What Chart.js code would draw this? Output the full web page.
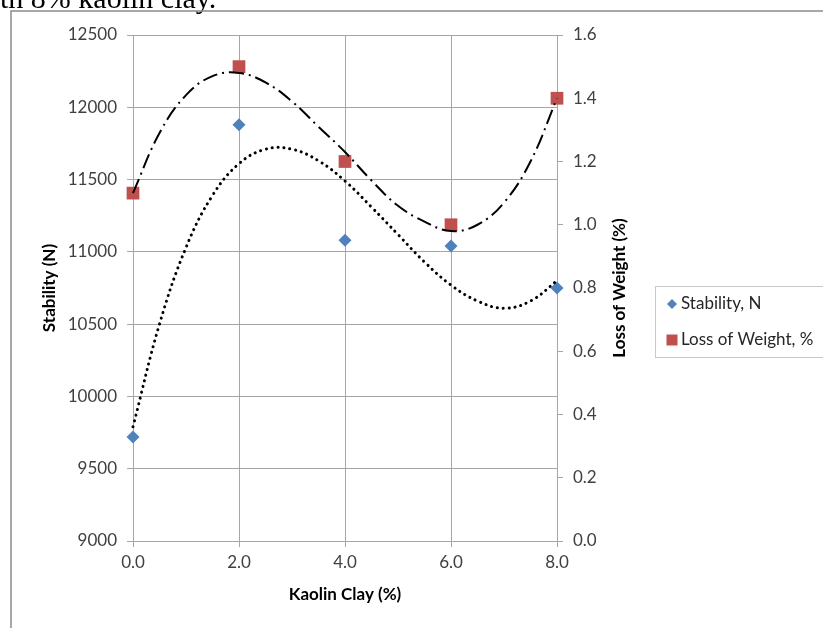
<!DOCTYPE html>
<html>
<head>
<meta charset="utf-8">
<script src="https://cdn.jsdelivr.net/npm/chart.js@4.4.1/dist/chart.umd.min.js"></script>
<style>
  html, body { margin: 0; padding: 0; background: #ffffff; }
  #wrap { position: relative; width: 823px; height: 628px; overflow: hidden; }
  canvas { position: absolute; left: 0; top: 0; }
</style>
</head>
<body>
<div id="wrap"><canvas id="c" width="823" height="628"></canvas></div>
<script>
// ---- data ----
const kaolin = [0, 2, 4, 6, 8];
const stability = [9720, 11880, 11080, 11040, 10750];
const lossWeight = [1.10, 1.50, 1.20, 1.00, 1.40];

// trendline curves (polynomial trendlines)
const trendX = [0, 0.5, 1, 1.5, 2, 2.5, 3, 3.5, 4, 4.5, 5, 5.5, 6, 6.5, 7, 7.5, 8];
const stabilityTrend = [9790, 10500, 11030, 11390, 11610, 11710, 11710, 11630, 11490, 11310, 11120, 10930, 10770, 10660, 10610, 10660, 10800];
const lossTrend = [1.10, 1.29, 1.41, 1.47, 1.48, 1.45, 1.39, 1.31, 1.23, 1.14, 1.06, 1.01, 0.98, 1.00, 1.07, 1.20, 1.40];

const xTicks = [0, 2, 4, 6, 8];
const leftTicks = [9000, 9500, 10000, 10500, 11000, 11500, 12000, 12500];
const rightTicks = [0, 0.2, 0.4, 0.6, 0.8, 1.0, 1.2, 1.4, 1.6];

const seriesNames = ['Stability, N', 'Loss of Weight, %'];
const xTitle = 'Kaolin Clay (%)';
const yTitle = 'Stability (N)';
const y2Title = 'Loss of Weight (%)';
const topText = 'with 8% kaolin clay.';

const blue = '#4F81BD';
const red = '#C0504D';
const gridColor = '#a6a6a6';
const tickColor = '#404040';
const FONT = 'Lato, "Open Sans", "Liberation Sans", sans-serif';

const pts = (xs, ys) => xs.map((x, i) => ({ x: x, y: ys[i] }));

const extras = {
  id: 'extras',
  afterDraw(chart) {
    const ctx = chart.ctx;
    const ca = chart.chartArea;
    ctx.save();
    // top text (cut-off caption from the surrounding document)
    ctx.fillStyle = '#000';
    ctx.font = '30px "Liberation Serif", "Times New Roman", serif';
    ctx.textBaseline = 'alphabetic';
    ctx.textAlign = 'left';
    ctx.fillText(topText, -30, 8);

    // outer frame
    ctx.strokeStyle = '#8c8c8c';
    ctx.lineWidth = 1.5;
    ctx.beginPath();
    ctx.moveTo(11, 640);
    ctx.lineTo(11, 11);
    ctx.lineTo(830, 11);
    ctx.stroke();

    // axis titles
    ctx.fillStyle = '#000';
    ctx.font = 'bold 17px ' + FONT;
    ctx.textAlign = 'center';
    ctx.textBaseline = 'middle';
    ctx.fillText(xTitle, (ca.left + ca.right) / 2, 595);

    ctx.save();
    ctx.translate(50, (ca.top + ca.bottom) / 2);
    ctx.rotate(-Math.PI / 2);
    ctx.fillText(yTitle, 0, 0);
    ctx.restore();

    ctx.save();
    ctx.translate(620, (ca.top + ca.bottom) / 2);
    ctx.rotate(-Math.PI / 2);
    ctx.fillText(y2Title, 0, 0);
    ctx.restore();

    // legend
    ctx.strokeStyle = '#c8c8c8';
    ctx.lineWidth = 1;
    ctx.strokeRect(655.5, 286.5, 170, 71);
    ctx.font = '17px ' + FONT;
    ctx.textAlign = 'left';
    ctx.textBaseline = 'middle';
    // diamond
    ctx.fillStyle = blue;
    ctx.beginPath();
    ctx.moveTo(672, 299); ctx.lineTo(677, 304); ctx.lineTo(672, 309); ctx.lineTo(667, 304);
    ctx.closePath(); ctx.fill();
    ctx.fillStyle = '#262626';
    ctx.fillText(seriesNames[0], 681, 304);
    // square
    ctx.fillStyle = red;
    ctx.fillRect(666.5, 334.5, 11, 11);
    ctx.fillStyle = '#262626';
    ctx.fillText(seriesNames[1], 681, 340);
    ctx.restore();
  }
};

new Chart(document.getElementById('c'), {
  type: 'scatter',
  data: {
    datasets: [
      {
        label: 'Stability trend',
        data: pts(trendX, stabilityTrend),
        yAxisID: 'y',
        showLine: true,
        pointRadius: 0,
        borderColor: '#000',
        borderWidth: 3,
        borderDash: [0.1, 5.8],
        borderCapStyle: 'round',
        tension: 0.4,
        fill: false,
        clip: false
      },
      {
        label: 'Loss trend',
        data: pts(trendX, lossTrend),
        yAxisID: 'y2',
        showLine: true,
        pointRadius: 0,
        borderColor: '#000',
        borderWidth: 2,
        borderDash: [15, 5, 2, 5],
        tension: 0.4,
        fill: false,
        clip: false
      },
      {
        label: seriesNames[0],
        data: pts(kaolin, stability),
        yAxisID: 'y',
        pointStyle: 'rectRot',
        pointRadius: 6.5,
        pointBackgroundColor: blue,
        pointBorderColor: blue,
        pointBorderWidth: 0,
        showLine: false,
        clip: false
      },
      {
        label: seriesNames[1],
        data: pts(kaolin, lossWeight),
        yAxisID: 'y2',
        pointStyle: 'rect',
        pointRadius: 9,
        pointBackgroundColor: red,
        pointBorderColor: red,
        pointBorderWidth: 0,
        showLine: false,
        clip: false
      }
    ]
  },
  options: {
    responsive: false,
    animation: false,
    layout: { padding: { top: 35, left: 0, right: 0, bottom: 0 } },
    plugins: {
      legend: { display: false },
      tooltip: { enabled: false },
      title: { display: false }
    },
    scales: {
      x: {
        type: 'linear',
        min: 0, max: 8,
        afterFit: s => { s.height = 87; },
        afterBuildTicks: s => { s.ticks = xTicks.map(v => ({ value: v })); },
        ticks: {
          callback: v => Number(v).toFixed(1),
          color: tickColor,
          font: { family: FONT, size: 17 },
          padding: 5,
          maxRotation: 0
        },
        grid: { color: gridColor, lineWidth: 1, tickLength: 6, tickColor: gridColor },
        border: { color: gridColor, width: 1 }
      },
      y: {
        position: 'left',
        min: 9000, max: 12500,
        afterFit: s => { s.width = 133; },
        afterBuildTicks: s => { s.ticks = leftTicks.map(v => ({ value: v })); },
        ticks: {
          callback: v => String(v),
          color: tickColor,
          font: { family: FONT, size: 17 },
          padding: 10
        },
        grid: { color: gridColor, lineWidth: 1, tickLength: 6, tickColor: gridColor },
        border: { color: gridColor, width: 1 }
      },
      y2: {
        position: 'right',
        min: 0, max: 1.6,
        afterFit: s => { s.width = 266; },
        afterBuildTicks: s => { s.ticks = rightTicks.map(v => ({ value: v })); },
        ticks: {
          callback: v => Number(v).toFixed(1),
          color: tickColor,
          font: { family: FONT, size: 17 },
          padding: 10
        },
        grid: { drawOnChartArea: false, color: gridColor, tickLength: 6, tickColor: gridColor },
        border: { color: gridColor, width: 1 }
      }
    }
  },
  plugins: [extras]
});
</script>
</body>
</html>
